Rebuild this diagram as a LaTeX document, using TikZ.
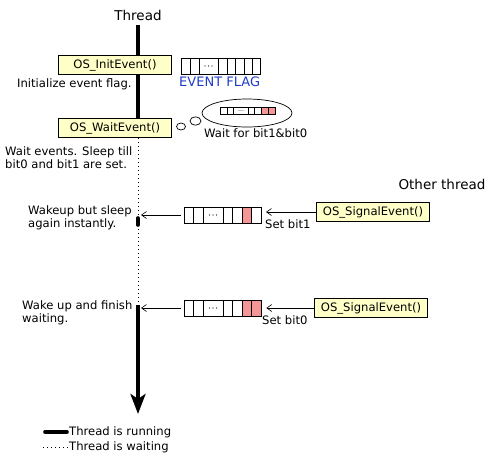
\documentclass[tikz,border=0pt]{standalone}
\usepackage{fontspec}
\setmainfont{DejaVu Sans}
\usetikzlibrary{arrows.meta}
\definecolor{boxfill}{RGB}{255,255,200}
\definecolor{bitred}{RGB}{245,150,150}
\definecolor{flagblue}{RGB}{30,60,200}
\begin{document}
\begin{tikzpicture}[x=1pt,y=-1pt,
  func/.style={draw=black, line width=0.8pt, fill=boxfill, minimum width=113pt, minimum height=19pt, inner sep=0pt, font=\fontsize{11.6}{13}\selectfont},
  lbl/.style={inner sep=0pt, anchor=west, align=left, font=\fontsize{11.6}{13}\selectfont},
  big/.style={inner sep=0pt, font=\fontsize{13.5}{16}\selectfont},
  run/.style={line width=3.6pt},
  waitline/.style={line width=1pt, dash pattern=on 1pt off 3pt},
  sig/.style={line width=0.6pt, -{Straight Barb[length=5pt,width=7pt]}},
  flagnode/.style={draw=black, line width=0.6pt, inner sep=0pt},
  cellline/.style={line width=0.6pt}
]
\useasboundingbox (0,0) rectangle (498,461);

% thread coordinates
\coordinate (t0) at (138,25);
\coordinate (t1) at (138,138);
\coordinate (t2) at (138,218);
\coordinate (t3) at (138,225);
\coordinate (t4) at (138,305);
\coordinate (t5) at (138,414);

\node[big] (thread) at (138,15) {Thread};
\draw[run] (t0) -- (138,128);

\node[func] (init) at (115,65) {OS\_InitEvent()};
\node[func] (wait) at (115,128) {OS\_WaitEvent()};

\draw[waitline] (t1) -- (t2);
\draw[run, line cap=round] (t2) -- (t3);
\draw[waitline] (t3) -- (t4);
\draw[run, -{Stealth[length=20pt,width=15pt,inset=5pt]}] (t4) -- (t5);

% event flag (top)
\node[flagnode, fill=white, minimum width=79pt, minimum height=16pt] (ef) at (220.5,66) {};
\foreach \x in {190,199,218,227,235.5,244,252} \draw[cellline] (\x,58) -- (\x,74);
\foreach \x in {205,208.5,212} \fill (\x,66) circle (0.6);
\node[inner sep=0pt, anchor=west, text=flagblue, font=\fontsize{13}{14}\selectfont] (eflbl) at (179,82) {EVENT FLAG};

\node[lbl] (initlbl) at (17,84) {Initialize event flag.};

% thought bubble
\draw[line width=0.7pt] (181,126.5) ellipse [x radius=4.5, y radius=3.5];
\draw[line width=0.7pt] (195.5,121) ellipse [x radius=5.5, y radius=4.2];
\draw[line width=0.7pt] (247,113) ellipse [x radius=45, y radius=14];
\fill[bitred] (261.5,107) rectangle (275,114);
\node[flagnode, minimum width=55pt, minimum height=7pt] (bf) at (247.5,110.5) {};
\foreach \x in {226.8,233.6,247.9,254.7,261.5,268.3} \draw[cellline] (\x,107) -- (\x,114);
\foreach \x in {239,241,243} \fill (\x,110.5) circle (0.4);
\node[lbl] (waitfor) at (204,133) {Wait for bit1\&bit0};

\node[lbl] (waitlbl) at (5,157.5) {Wait events. Sleep till\\bit0 and bit1 are set.};

\node[big] (other) at (442,184) {Other thread};

% row 1 : set bit1
\node[func] (sig1) at (373,212) {OS\_SignalEvent()};
\fill[bitred] (242,207) rectangle (251.5,223);
\node[flagnode, minimum width=77pt, minimum height=16pt] (f1) at (222.5,215) {};
\foreach \x in {193.5,203,223,232.5,242,251.5} \draw[cellline] (\x,207) -- (\x,223);
\foreach \x in {209.5,213,216.5} \fill (\x,215) circle (0.6);
\coordinate (a1) at (141,215);
\draw[sig] (sig1.west) -- (266,212);
\draw[sig, shorten <=3pt] (f1.west) -- (a1);
\node[lbl] (setb1) at (265,224) {Set bit1};
\node[lbl] (wake1) at (28,218) {Wakeup but sleep\\again instantly.};

% row 2 : set bit0
\node[func] (sig2) at (371,308) {OS\_SignalEvent()};
\fill[bitred] (242,300) rectangle (261,316);
\node[flagnode, minimum width=77pt, minimum height=16pt] (f2) at (222.5,308) {};
\foreach \x in {193.5,203,223,232.5,242,251.5} \draw[cellline] (\x,300) -- (\x,316);
\foreach \x in {209.5,213,216.5} \fill (\x,308) circle (0.6);
\coordinate (a2) at (141,308);
\draw[sig, shorten >=5pt] (sig2.west) -- (f2.east);
\draw[sig, shorten <=3pt] (f2.west) -- (a2);
\node[lbl] (setb0) at (262,320) {Set bit0};
\node[lbl] (wake2) at (22,313) {Wake up and finish\\waiting.};

% legend
\coordinate (lr0) at (45,432);
\coordinate (lr1) at (67,432);
\coordinate (lw0) at (43,447);
\coordinate (lw1) at (68,447);
\draw[run, line cap=round] (lr0) -- (lr1);
\draw[waitline] (lw0) -- (lw1);
\node[lbl] (legrun) at (69,432) {Thread is running};
\node[lbl] (legwait) at (69,447) {Thread is waiting};
\end{tikzpicture}
\end{document}
